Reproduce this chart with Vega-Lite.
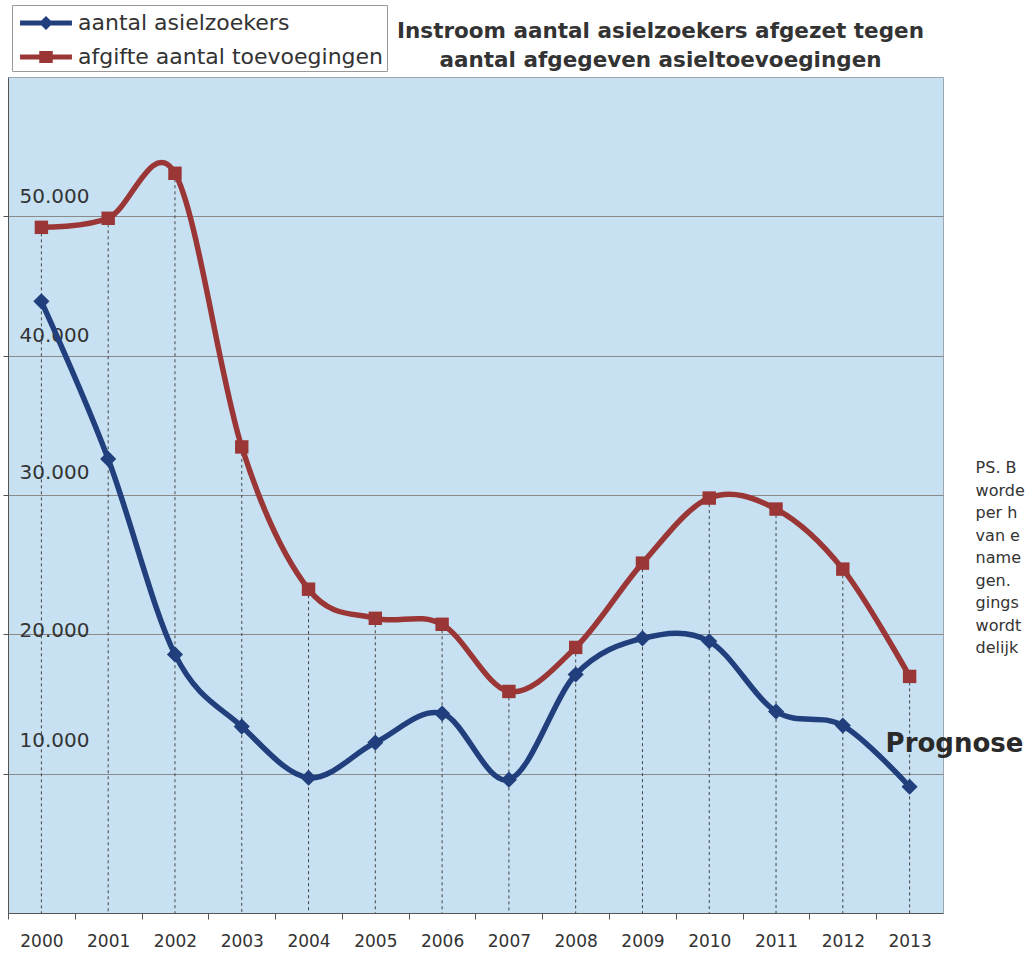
{
  "$schema": "https://vega.github.io/schema/vega-lite/v6.json",
  "width": 935,
  "height": 836,
  "autosize": {"type": "none"},
  "padding": {"left": 8, "top": 77, "right": 86, "bottom": 40},
  "background": "white",
  "config": {
    "view": {"fill": "#c7e1f2", "stroke": "#9aa7b0", "strokeWidth": 1},
    "font": "DejaVu Sans"
  },
  "title": {
    "text": ["Instroom aantal asielzoekers afgezet tegen", "aantal afgegeven asieltoevoegingen"],
    "font": "DejaVu Sans",
    "fontSize": 21.5,
    "fontWeight": "bold",
    "color": "#333333",
    "anchor": "middle",
    "dx": 185,
    "offset": -67,
    "lineHeight": 29
  },
  "data": {
    "values": [
      {"jaar": "2000", "aantal asielzoekers": 43900, "afgifte aantal toevoegingen": 49210},
      {"jaar": "2001", "aantal asielzoekers": 32590, "afgifte aantal toevoegingen": 49860},
      {"jaar": "2002", "aantal asielzoekers": 18560, "afgifte aantal toevoegingen": 53090},
      {"jaar": "2003", "aantal asielzoekers": 13380, "afgifte aantal toevoegingen": 33450},
      {"jaar": "2004", "aantal asielzoekers": 9710, "afgifte aantal toevoegingen": 23240},
      {"jaar": "2005", "aantal asielzoekers": 12230, "afgifte aantal toevoegingen": 21150},
      {"jaar": "2006", "aantal asielzoekers": 14320, "afgifte aantal toevoegingen": 20720},
      {"jaar": "2007", "aantal asielzoekers": 9570, "afgifte aantal toevoegingen": 15900},
      {"jaar": "2008", "aantal asielzoekers": 17120, "afgifte aantal toevoegingen": 19060},
      {"jaar": "2009", "aantal asielzoekers": 19710, "afgifte aantal toevoegingen": 25110},
      {"jaar": "2010", "aantal asielzoekers": 19500, "afgifte aantal toevoegingen": 29780},
      {"jaar": "2011", "aantal asielzoekers": 14460, "afgifte aantal toevoegingen": 28990},
      {"jaar": "2012", "aantal asielzoekers": 13450, "afgifte aantal toevoegingen": 24680},
      {"jaar": "2013", "aantal asielzoekers": 9060, "afgifte aantal toevoegingen": 16980}
    ]
  },
  "encoding": {
    "x": {
      "field": "jaar",
      "type": "ordinal",
      "scale": {"type": "point", "padding": 0.5},
      "axis": {
        "title": null,
        "labelAngle": 0,
        "labelFont": "DejaVu Sans",
        "labelFontSize": 17,
        "labelColor": "#333333",
        "domainColor": "#555555",
        "tickColor": "#555555",
        "tickSize": 6,
        "tickOffset": -33.4,
        "labelOffset": 33.4,
        "labelPadding": 14,
        "grid": false
      }
    }
  },
  "layer": [
    {
      "mark": {"type": "rule", "color": "#444444", "strokeWidth": 1, "strokeDash": [3, 3]},
      "encoding": {
        "y": {
          "field": "afgifte aantal toevoegingen",
          "type": "quantitative",
          "scale": {"domain": [0, 60000], "nice": false},
          "axis": {
            "title": null,
            "values": [10000, 20000, 30000, 40000, 50000],
            "labelExpr": "replace(format(datum.value, ','), ',', '.')",
            "labelFont": "DejaVu Sans",
            "labelFontSize": 20,
            "labelColor": "#333333",
            "labelAlign": "left",
            "labelBaseline": "middle",
            "labelPadding": -16,
            "labelOffset": {
              "condition": [
                {"test": "datum.value == 10000", "value": -33},
                {"test": "datum.value == 20000", "value": -4},
                {"test": "datum.value == 30000", "value": -23}
              ],
              "value": -20
            },
            "tickSize": 5,
            "tickColor": "#555555",
            "domainColor": "#555555",
            "grid": true,
            "gridColor": "#8a8a8a",
            "gridWidth": 1
          }
        },
        "y2": {"datum": 0}
      }
    },
    {
      "transform": [{"fold": ["aantal asielzoekers", "afgifte aantal toevoegingen"], "as": ["reeks", "waarde"]}],
      "layer": [
        {
          "mark": {"type": "line", "interpolate": "cardinal", "strokeWidth": 5.5},
          "encoding": {
            "y": {"field": "waarde", "type": "quantitative"},
            "color": {
              "field": "reeks",
              "type": "nominal",
              "scale": {"domain": ["aantal asielzoekers", "afgifte aantal toevoegingen"], "range": ["#213f7d", "#9b3636"]}
            }
          }
        },
        {
          "transform": [{"filter": "datum.reeks === 'aantal asielzoekers'"}],
          "mark": {"type": "point", "filled": true, "opacity": 1, "shape": "diamond", "size": 260, "color": "#213f7d"},
          "encoding": {
            "y": {"field": "waarde", "type": "quantitative"}
          }
        },
        {
          "transform": [{"filter": "datum.reeks === 'afgifte aantal toevoegingen'"}],
          "mark": {"type": "point", "filled": true, "opacity": 1, "shape": "square", "size": 180, "color": "#9b3636"},
          "encoding": {
            "y": {"field": "waarde", "type": "quantitative"}
          }
        },
        {
          "transform": [{"filter": "false"}],
          "mark": {"type": "point", "filled": true, "opacity": 1, "strokeWidth": 0},
          "encoding": {
            "y": {"field": "waarde", "type": "quantitative"},
            "color": {
              "field": "reeks",
              "type": "nominal",
              "legend": {
                "title": null,
                "orient": "none",
                "legendX": 4,
                "legendY": -72,
                "direction": "vertical",
                "strokeColor": "#999999",
                "fillColor": "white",
                "padding": 3,
                "symbolSize": 900,
                "symbolOffset": 16,
                "symbolStrokeWidth": 0,
                "labelOffset": 17,
                "labelLimit": 400,
                "rowPadding": 8,
                "labelFont": "DejaVu Sans",
                "labelFontSize": 22,
                "labelColor": "#333333"
              }
            },
            "shape": {
              "field": "reeks",
              "type": "nominal",
              "scale": {
                "domain": ["aantal asielzoekers", "afgifte aantal toevoegingen"],
                "range": [
                  "M-1.73,-0.16L1.73,-0.16L1.73,0.16L-1.73,0.16Z M0,-0.47L0.47,0L0,0.47L-0.47,0Z",
                  "M-1.73,-0.16L1.73,-0.16L1.73,0.16L-1.73,0.16Z M-0.45,-0.4L0.45,-0.4L0.45,0.4L-0.45,0.4Z"
                ]
              },
              "legend": {
                "title": null,
                "orient": "none",
                "legendX": 4,
                "legendY": -72,
                "direction": "vertical",
                "strokeColor": "#999999",
                "fillColor": "white",
                "padding": 3,
                "symbolSize": 900,
                "symbolOffset": 16,
                "symbolStrokeWidth": 0,
                "labelOffset": 17,
                "labelLimit": 400,
                "rowPadding": 8,
                "labelFont": "DejaVu Sans",
                "labelFontSize": 22,
                "labelColor": "#333333"
              }
            }
          }
        }
      ]
    },
    {
      "data": {"values": [{"jaar": "2013", "label": "Prognose", "pos": 12100}]},
      "mark": {"type": "text", "align": "left", "baseline": "middle", "dx": -24, "font": "DejaVu Sans", "fontSize": 26, "fontWeight": "bold", "color": "#2a2a2a"},
      "encoding": {
        "y": {"field": "pos", "type": "quantitative"},
        "text": {"field": "label"}
      }
    },
    {
      "data": {"values": [{"jaar": "2013", "note": ["PS. B", "worde", "per h", "van e", "name", "gen.", "gings", "wordt", "delijk"], "pos": 32500}]},
      "mark": {"type": "text", "align": "left", "baseline": "top", "dx": 66, "font": "DejaVu Sans", "fontSize": 16, "lineHeight": 22.5, "color": "#333333"},
      "encoding": {
        "y": {"field": "pos", "type": "quantitative"},
        "text": {"field": "note"}
      }
    }
  ]
}
